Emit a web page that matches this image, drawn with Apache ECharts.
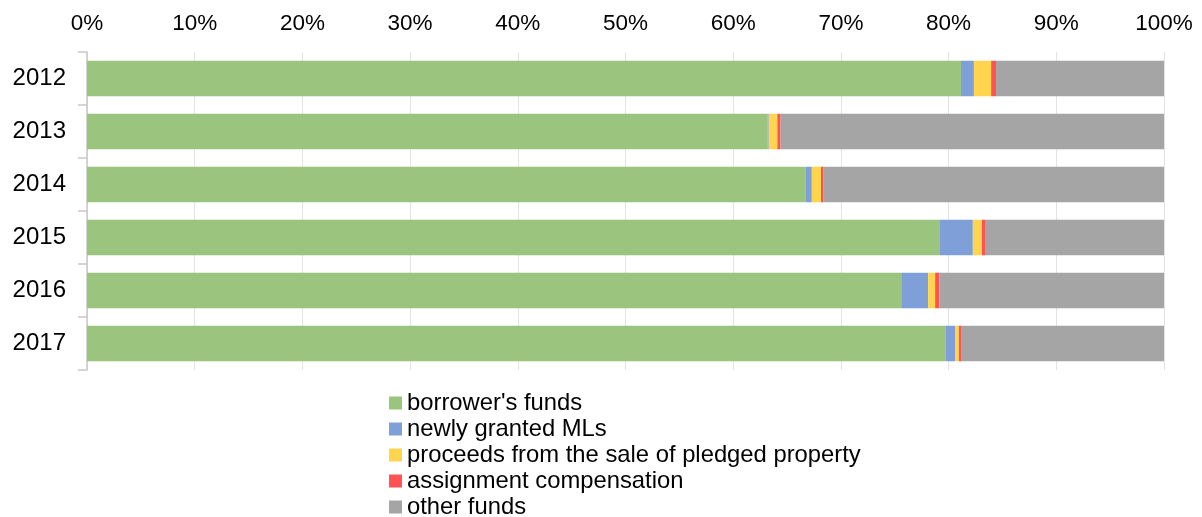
<!DOCTYPE html>
<html>
<head>
<meta charset="utf-8">
<script src="https://cdn.jsdelivr.net/npm/echarts@6/dist/echarts.min.js"></script>
<style>html,body{margin:0;padding:0;background:#fff;}#c{width:1202px;height:517px;}</style>
</head>
<body>
<div id="c"></div>
<script>
const categories = ['2012', '2013', '2014', '2015', '2016', '2017'];
const borrowersFunds = [81.15, 63.2, 66.7, 79.2, 75.6, 79.75];
const newlyGrantedMLs = [1.2, 0.1, 0.6, 3.05, 2.5, 0.85];
const proceedsSale = [1.6, 0.8, 0.85, 0.85, 0.65, 0.35];
const assignmentComp = [0.45, 0.3, 0.2, 0.35, 0.4, 0.2];
const otherFunds = [15.6, 35.6, 31.65, 16.55, 20.85, 18.85];
const seriesNames = ["borrower's funds", 'newly granted MLs', 'proceeds from the sale of pledged property', 'assignment compensation', 'other funds'];
const colors = ['#9BC47F', '#7E9FD7', '#FFD44F', '#FF5252', '#A5A5A5'];
const values = [borrowersFunds, newlyGrantedMLs, proceedsSale, assignmentComp, otherFunds];

const font = 'Liberation Sans, Arial, sans-serif';
const chart = echarts.init(document.getElementById('c'));
chart.setOption({
  animation: false,
  color: colors,
  textStyle: { fontFamily: font },
  grid: { left: 87, right: 38, top: 52, bottom: 147 },
  xAxis: {
    type: 'value', position: 'top', min: 0, max: 100, interval: 10,
    axisLabel: { formatter: '{value}%', fontSize: 22.5, color: '#000', fontFamily: font, margin: 17 },
    axisLine: { show: false }, axisTick: { show: false },
    splitLine: { lineStyle: { color: '#e3e3e3', width: 1 } }
  },
  yAxis: {
    type: 'category', data: categories, inverse: true,
    axisLabel: { fontSize: 24, color: '#000', fontFamily: font, margin: 21 },
    axisLine: { lineStyle: { color: '#c8c8c8', width: 1.5 } },
    axisTick: { show: true, length: 9, lineStyle: { color: '#c8c8c8', width: 1.5 } }
  },
  legend: {
    orient: 'vertical', left: 384, top: 386, height: 200,
    icon: 'rect', itemWidth: 13, itemHeight: 13, itemGap: 2,
    textStyle: { fontSize: 23.8, color: '#000', fontFamily: font },
    data: seriesNames
  },
  series: seriesNames.map((n, i) => ({
    name: n, type: 'bar', stack: 'total', data: values[i],
    barCategoryGap: '33%',
    itemStyle: { color: colors[i] }
  }))
});
</script>
</body>
</html>
